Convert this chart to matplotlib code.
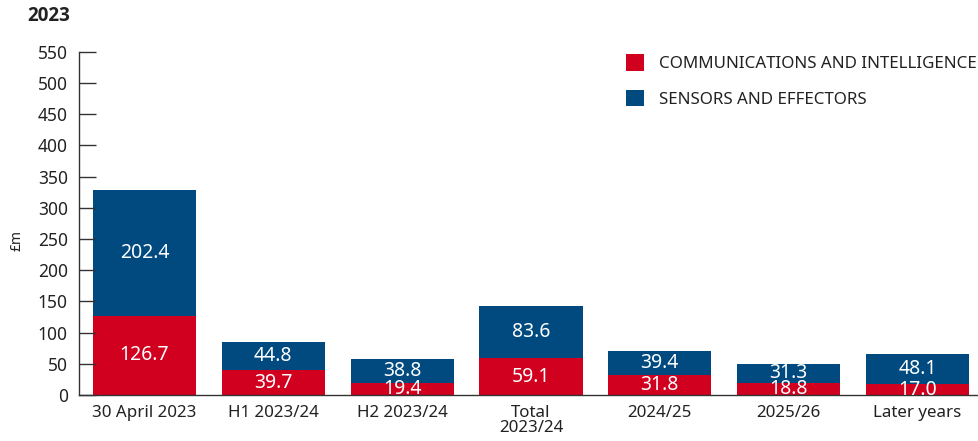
import matplotlib
matplotlib.use("Agg")
import matplotlib.pyplot as plt
import numpy as np

plt.rcParams['font.family'] = ['Noto Sans', 'DejaVu Sans']

categories = ["30 April 2023", "H1 2023/24", "H2 2023/24", "Total\n2023/24", "2024/25", "2025/26", "Later years"]
comms = [126.7, 39.7, 19.4, 59.1, 31.8, 18.8, 17.0]
sensors = [202.4, 44.8, 38.8, 83.6, 39.4, 31.3, 48.1]
yticks = [0, 50, 100, 150, 200, 250, 300, 350, 400, 450, 500, 550]

red = "#D2001F"
blue = "#004A80"
txt = "#222222"

fig = plt.figure(figsize=(9.79, 4.41), dpi=100)
ax = fig.add_axes([79/979, 1-395/441, 1-79/979, (395-51.7)/441])

x = np.arange(len(categories))
w = 0.8
ax.bar(x, comms, w, color=red, label="COMMUNICATIONS AND INTELLIGENCE")
ax.bar(x, sensors, w, bottom=comms, color=blue, label="SENSORS AND EFFECTORS")

for i in range(len(x)):
    ax.text(x[i], comms[i]/2, f"{comms[i]:.1f}", ha='center', va='center', color='white', fontsize=14)
    ax.text(x[i], comms[i] + sensors[i]/2, f"{sensors[i]:.1f}", ha='center', va='center', color='white', fontsize=14)

ax.set_xlim(-0.508, 6.477)
ax.set_ylim(0, 550)
ax.set_yticks(yticks)
ax.set_xticks(x)
ax.set_xticklabels(categories, fontsize=12.2, color=txt, linespacing=0.95)
ax.tick_params(axis='y', direction='in', length=12, width=1, colors='#333333', labelcolor=txt, labelsize=12.5, pad=8)
ax.tick_params(axis='x', length=0, pad=7)
for s in ['top', 'right']:
    ax.spines[s].set_visible(False)
for s in ['left', 'bottom']:
    ax.spines[s].set_color('#333333')
    ax.spines[s].set_linewidth(1)

fig.text(17/979, 1-240/441, "£m", fontsize=10, color=txt, rotation=90, va='center', ha='center')

fig.text(27/979, 1-16/441, "2023", fontsize=13.5, fontweight='bold', color=txt, va='center', ha='left',
         family=['Open Sans', 'DejaVu Sans'])

ax.legend(loc='upper left', bbox_to_anchor=(0.6055, 0.997), frameon=False, fontsize=12.2,
          handlelength=1.1, handleheight=1.1, handletextpad=0.85, labelspacing=1.05, labelcolor=txt,
          borderaxespad=0, borderpad=0.1)

fig.savefig("out.png", dpi=100)
